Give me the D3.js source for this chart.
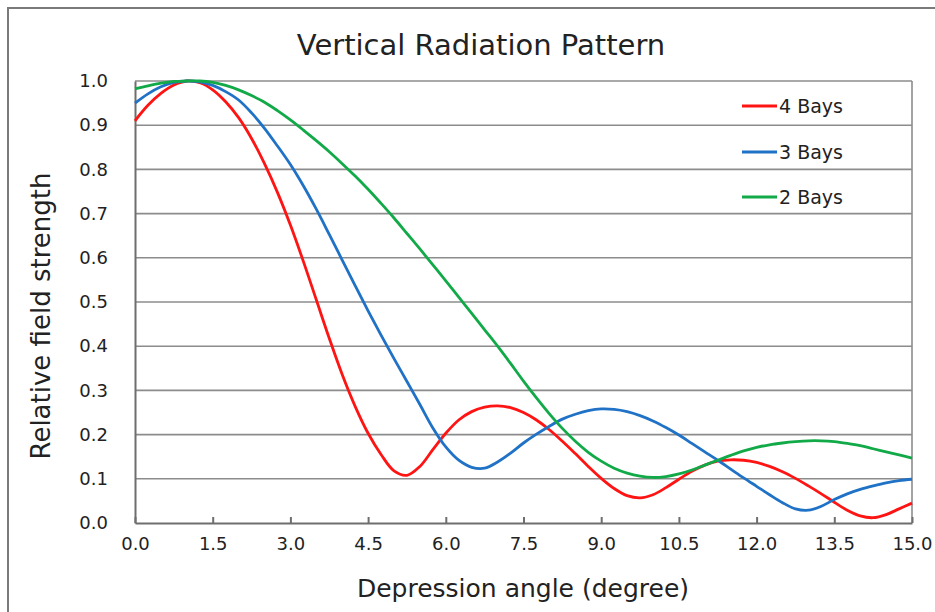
<!DOCTYPE html>
<html>
<head>
<meta charset="utf-8">
<script src="https://cdn.jsdelivr.net/npm/d3@7"></script>
<style>
  html, body { margin: 0; padding: 0; background: #fff; }
  svg { display: block; }
  text { font-family: "DejaVu Sans", sans-serif; fill: #222; }
</style>
</head>
<body>
<svg id="chart" width="935" height="612"></svg>
<script>
// Depression angle samples (degrees)
const angles = d3.range(0, 15.0001, 0.25).map(d => +d.toFixed(2));

// Relative field strength for each array configuration
const bays4 = [
  0.910, 0.945, 0.972, 0.991, 1.000, 0.996, 0.980, 0.953, 0.917, 0.870,
  0.813, 0.748, 0.674, 0.592, 0.505, 0.418, 0.336, 0.264, 0.203, 0.155,
  0.118, 0.108, 0.128, 0.166, 0.203, 0.233, 0.252, 0.262, 0.265, 0.261,
  0.250, 0.233, 0.211, 0.185, 0.157, 0.128, 0.101, 0.078, 0.062, 0.057,
  0.064, 0.080, 0.099, 0.117, 0.131, 0.140, 0.143, 0.142, 0.137, 0.128,
  0.116, 0.101, 0.084, 0.066, 0.047, 0.029, 0.016, 0.012, 0.019, 0.032,
  0.045
];
const bays3 = [
  0.950, 0.971, 0.987, 0.997, 1.000, 0.998, 0.990, 0.976, 0.957, 0.928,
  0.893, 0.853, 0.811, 0.763, 0.710, 0.653, 0.595, 0.537, 0.480, 0.425,
  0.372, 0.320, 0.268, 0.215, 0.172, 0.142, 0.126, 0.124, 0.138, 0.158,
  0.181, 0.201, 0.219, 0.235, 0.246, 0.254, 0.258, 0.257, 0.252, 0.243,
  0.231, 0.216, 0.199, 0.180, 0.161, 0.142, 0.122, 0.102, 0.083, 0.064,
  0.046, 0.032, 0.029, 0.038, 0.053, 0.066, 0.076, 0.084, 0.091, 0.096,
  0.099
];
const bays2 = [
  0.982, 0.989, 0.995, 0.999, 1.000, 1.000, 0.997, 0.990, 0.980, 0.967,
  0.952, 0.933, 0.912, 0.889, 0.865, 0.840, 0.813, 0.785, 0.755, 0.723,
  0.690, 0.655, 0.620, 0.584, 0.548, 0.511, 0.474, 0.437, 0.400, 0.361,
  0.321, 0.283, 0.247, 0.214, 0.185, 0.160, 0.140, 0.124, 0.113, 0.106,
  0.103, 0.105, 0.111, 0.120, 0.131, 0.142, 0.153, 0.163, 0.171, 0.177,
  0.181, 0.184, 0.186, 0.186, 0.184, 0.180, 0.175, 0.168, 0.161, 0.154,
  0.147
];

const seriesNames = ["4 Bays", "3 Bays", "2 Bays"];
const seriesColors = ["#ff1414", "#1f72c6", "#12aa48"];
const xTicks = [0, 1.5, 3.0, 4.5, 6.0, 7.5, 9.0, 10.5, 12.0, 13.5, 15.0];
const yTicks = [0, 0.1, 0.2, 0.3, 0.4, 0.5, 0.6, 0.7, 0.8, 0.9, 1.0];

const svg = d3.select("#chart");
const W = 935, H = 612;
const plot = { left: 135, right: 912, top: 81, bottom: 523 };

const x = d3.scaleLinear().domain([0, 15]).range([plot.left, plot.right]);
const y = d3.scaleLinear().domain([0, 1]).range([plot.bottom, plot.top]);

// outer frame (top and left edges)
svg.append("path")
  .attr("d", `M8,${H} L8,8 L${W},8`)
  .attr("fill", "none").attr("stroke", "#7a7a7a").attr("stroke-width", 2);

// title
svg.append("text")
  .attr("x", 481).attr("y", 55)
  .attr("text-anchor", "middle")
  .style("font-size", "29px")
  .text("Vertical Radiation Pattern");

// horizontal grid lines
svg.append("g").selectAll("line")
  .data(yTicks.filter(d => d > 0))
  .join("line")
  .attr("x1", plot.left).attr("x2", plot.right)
  .attr("y1", d => y(d)).attr("y2", d => y(d))
  .attr("stroke", "#8c8c8c").attr("stroke-width", 1.6);

// right border of plot area
svg.append("line")
  .attr("x1", plot.right).attr("x2", plot.right)
  .attr("y1", plot.top).attr("y2", plot.bottom)
  .attr("stroke", "#8c8c8c").attr("stroke-width", 1.6);

// y axis
const yAxis = d3.axisLeft(y).tickValues(yTicks).tickFormat(d3.format(".1f")).tickSize(0).tickPadding(27);
const gy = svg.append("g").attr("transform", `translate(${plot.left},0)`).call(yAxis);
gy.select(".domain").attr("stroke", "#6e6e6e").attr("stroke-width", 2);
gy.selectAll("text").style("font-size", "18px").attr("fill", "#222");

// x axis, ticks pointing inward
const xAxis = d3.axisBottom(x).tickValues(xTicks).tickFormat(d3.format(".1f")).tickSizeInner(-6).tickSizeOuter(0).tickPadding(14);
const gx = svg.append("g").attr("transform", `translate(0,${plot.bottom})`).call(xAxis);
gx.select(".domain").attr("stroke", "#6e6e6e").attr("stroke-width", 2);
gx.selectAll(".tick line").attr("stroke", "#6e6e6e").attr("stroke-width", 2);
gx.selectAll("text").style("font-size", "18px").attr("fill", "#222");

// axis titles
svg.append("text")
  .attr("x", 523).attr("y", 597)
  .attr("text-anchor", "middle")
  .style("font-size", "25px")
  .text("Depression angle (degree)");

svg.append("text")
  .attr("transform", "translate(50,316) rotate(-90)")
  .attr("text-anchor", "middle")
  .style("font-size", "26px")
  .text("Relative field strength");

// curves
const line = d3.line()
  .x((d, i) => x(angles[i]))
  .y(d => y(d))
  .curve(d3.curveCatmullRom.alpha(0.5));

const allSeries = [bays4, bays3, bays2];
svg.append("g").selectAll("path")
  .data(allSeries)
  .join("path")
  .attr("d", d => line(d))
  .attr("fill", "none")
  .attr("stroke", (d, i) => seriesColors[i])
  .attr("stroke-width", 2.8)
  .attr("stroke-linejoin", "round");

// legend
const legendY = [106, 152, 197];
const lg = svg.append("g").selectAll("g")
  .data(seriesNames)
  .join("g")
  .attr("transform", (d, i) => `translate(742,${legendY[i]})`);
lg.append("line")
  .attr("x1", 0).attr("x2", 35)
  .attr("stroke", (d, i) => seriesColors[i]).attr("stroke-width", 2.8);
lg.append("text")
  .attr("x", 37).attr("dy", "0.36em")
  .style("font-size", "19px")
  .text(d => d);
</script>
</body>
</html>
